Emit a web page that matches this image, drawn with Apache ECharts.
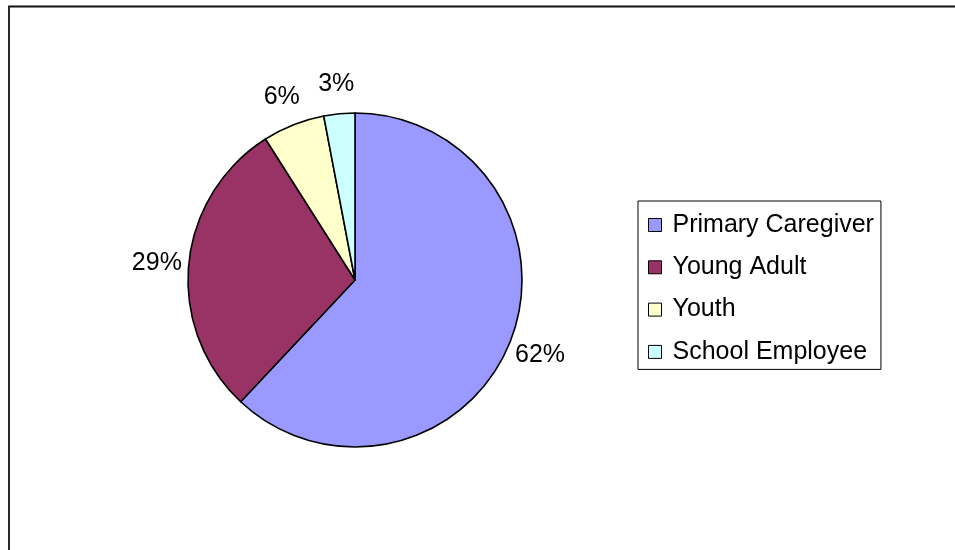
<!DOCTYPE html>
<html>
<head>
<meta charset="utf-8">
<script src="https://cdn.jsdelivr.net/npm/echarts@6/dist/echarts.min.js"></script>
<style>
  html, body { margin: 0; padding: 0; background: #fff; }
  #chart { width: 955px; height: 550px; }
</style>
</head>
<body>
<div id="chart"></div>
<script>
// Respondent groups and their shares (percent)
const categories = ['Primary Caregiver', 'Young Adult', 'Youth', 'School Employee'];
const shares = [62, 29, 6, 3];
const sliceColors = ['#9999FF', '#993366', '#FFFFCC', '#CCFFFF'];

const FONT = '"Liberation Sans", Arial, sans-serif';
const CX = 355, CY = 280, R = 167;
const LABEL_R = 199; // distance of each label's centre from the pie centre

const total = shares.reduce((a, b) => a + b, 0);
const cumBefore = shares.map((_, i) => shares.slice(0, i).reduce((a, b) => a + b, 0));

const chart = echarts.init(document.getElementById('chart'), null, { renderer: 'canvas' });

chart.setOption({
  animation: false,
  backgroundColor: '#fff',
  graphic: [{
    type: 'rect',
    silent: true,
    shape: { x: 9, y: 6.5, width: 1000, height: 1000 },
    style: { fill: 'none', stroke: '#111', lineWidth: 1.8 }
  }],
  legend: {
    orient: 'vertical',
    left: 638,
    top: 201,
    padding: [11.5, 7, 5, 10],
    itemGap: 17.3,
    itemWidth: 13,
    itemHeight: 13,
    icon: 'rect',
    borderColor: '#000',
    borderWidth: 1,
    selectedMode: false,
    itemStyle: { borderColor: '#000', borderWidth: 1 },
    textStyle: {
      fontFamily: FONT, fontSize: 25, color: '#000',
      padding: [0, 0, 0, 6]
    },
    data: categories
  },
  series: [{
    type: 'pie',
    center: [CX, CY],
    radius: R,
    startAngle: 90,
    clockwise: true,
    avoidLabelOverlap: false,
    emphasis: { disabled: true },
    itemStyle: { borderColor: '#000', borderWidth: 1.6 },
    label: {
      show: true,
      position: 'outside',
      formatter: p => p.value + '%',
      fontFamily: FONT,
      fontSize: 25,
      color: '#000'
    },
    labelLine: { show: false },
    labelLayout: params => {
      const i = params.dataIndex;
      const midFrac = (cumBefore[i] + shares[i] / 2) / total;
      const ang = Math.PI / 2 - midFrac * 2 * Math.PI;
      return {
        x: CX + LABEL_R * Math.cos(ang),
        y: CY - LABEL_R * Math.sin(ang) + 2,
        align: 'center',
        verticalAlign: 'middle'
      };
    },
    data: categories.map((name, i) => ({
      name,
      value: shares[i],
      itemStyle: { color: sliceColors[i] }
    }))
  }]
});
</script>
</body>
</html>
